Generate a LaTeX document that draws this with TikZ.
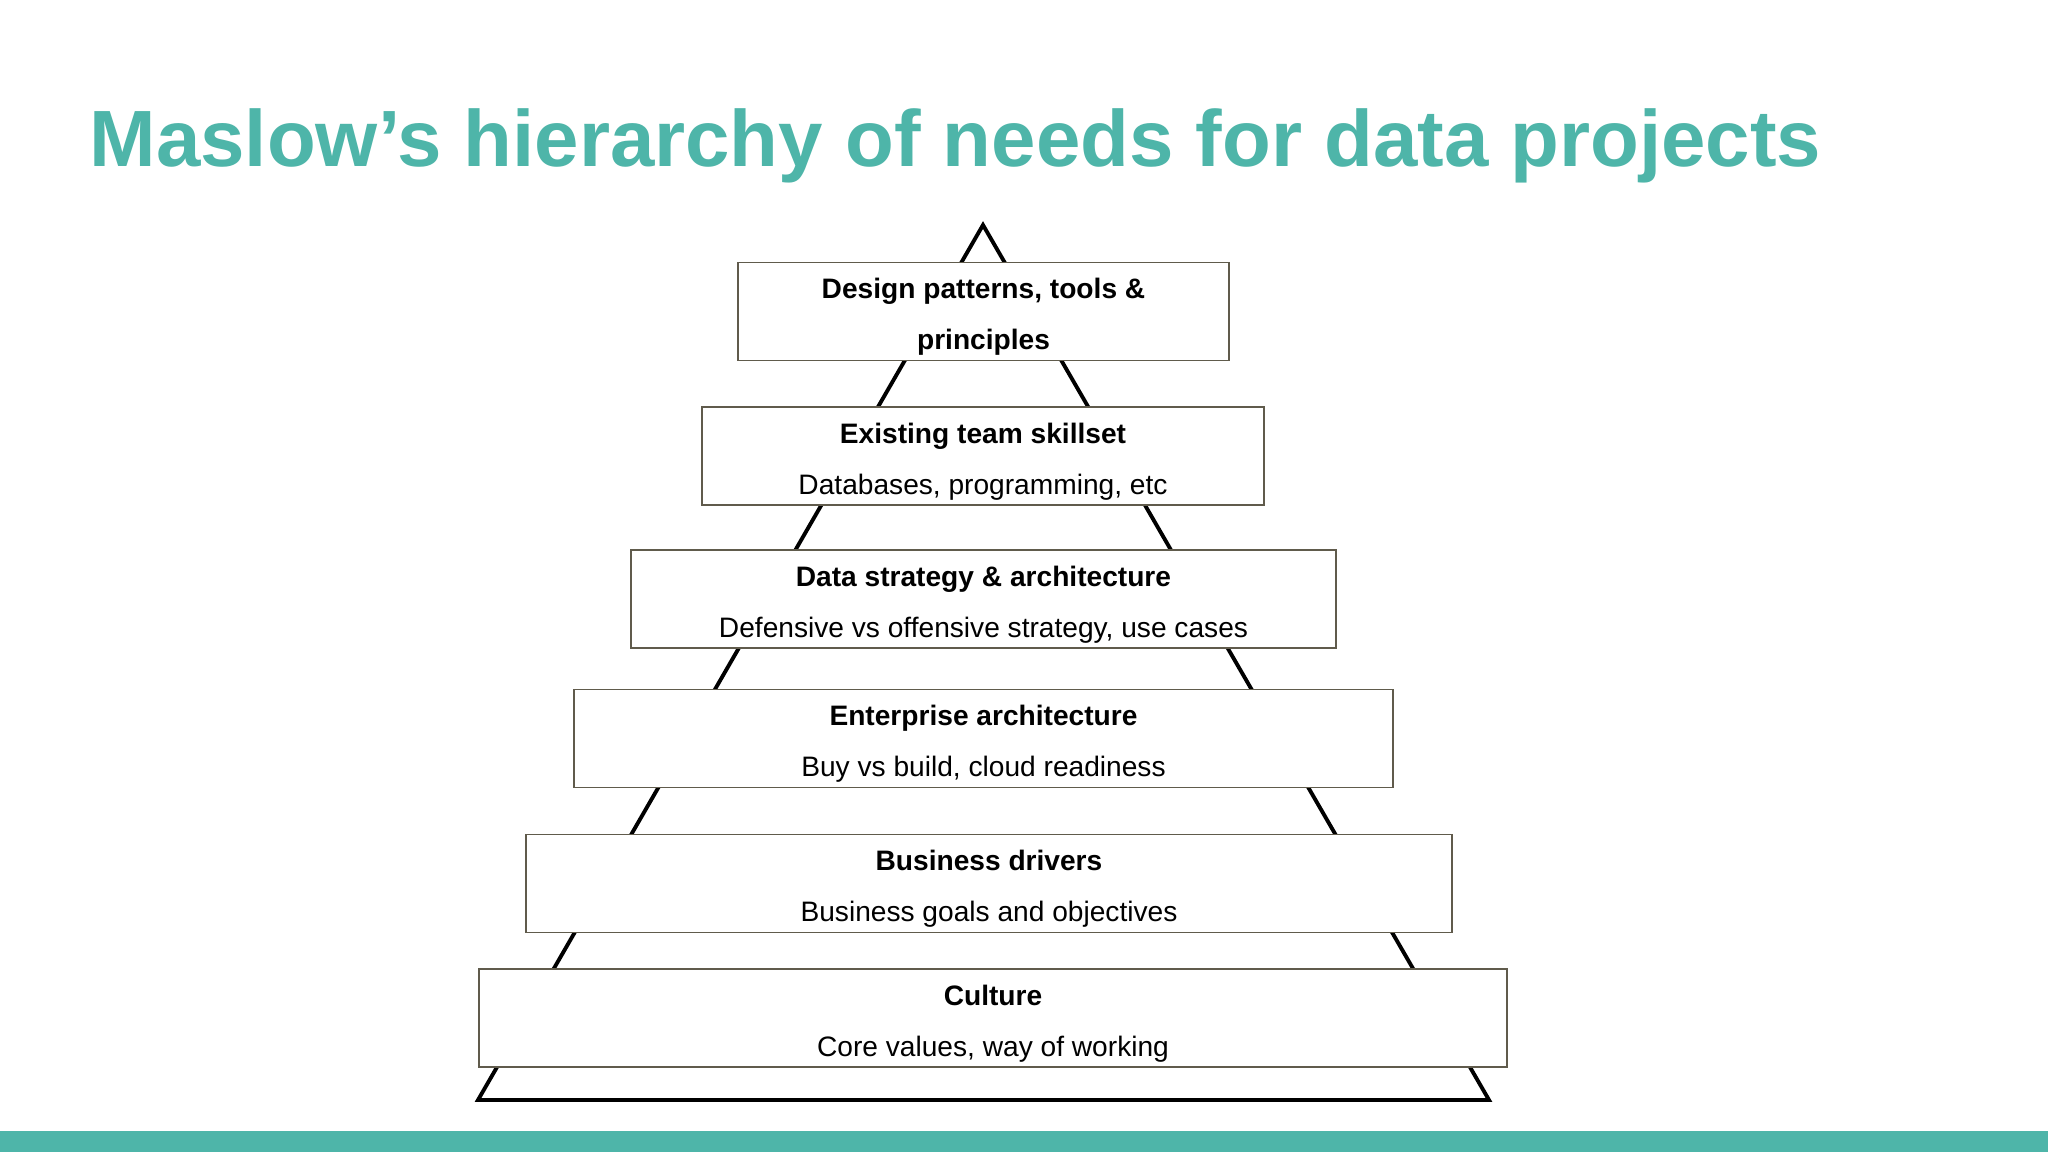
\documentclass[tikz,border=0pt]{standalone}
\usepackage{fontspec}
\setmainfont{Liberation Sans}
\usetikzlibrary{positioning}
\definecolor{mtteal}{RGB}{78,181,169}
\definecolor{boxline}{RGB}{96,91,76}
\newcommand{\lvltop}{\rule{0pt}{8.9pt}}

\begin{document}
\begin{tikzpicture}[x=0.01cm,y=-0.01cm,
    level box/.style={draw=boxline,line width=0.55pt,fill=white,minimum height=0.98cm,
                      inner sep=0pt,align=center,font=\fontsize{8}{14.5}\selectfont},
    pyramid/.style={line width=1.1pt,black}]

  \useasboundingbox[fill=white] (0,0) rectangle (2048,1152);
  \fill[mtteal] (0,1131) rectangle (2048,1152);

  \node[anchor=base west,text=mtteal,inner sep=0pt,
        font=\fontsize{22.7}{26}\selectfont\bfseries] (title) at (89,167)
        {Maslow’s hierarchy of needs for data projects};

  % pyramid behind the boxes
  \coordinate (apex) at (983,225);
  \coordinate (baseL) at (478,1100);
  \coordinate (baseR) at (1489,1100);
  \draw[pyramid] (apex) -- (baseL) -- (baseR) -- cycle;

  \node[level box,minimum width=4.91cm] (design) at (983.5,311.5)
        {\lvltop\textbf{Design patterns, tools \&}\\\textbf{principles}};
  \node[level box,minimum width=5.62cm] (skills) at (983,456)
        {\lvltop\textbf{Existing team skillset}\\Databases, programming, etc};
  \node[level box,minimum width=7.05cm] (strategy) at (983.5,599)
        {\lvltop\textbf{Data strategy \& architecture}\\Defensive vs offensive strategy, use cases};
  \node[level box,minimum width=8.18cm] (enterprise) at (983.5,738.5)
        {\lvltop\textbf{Enterprise architecture}\\Buy vs build, cloud readiness};
  \node[level box,minimum width=9.26cm] (drivers) at (989,883.5)
        {\lvltop\textbf{Business drivers}\\Business goals and objectives};
  \node[level box,minimum width=10.28cm] (culture) at (993,1018)
        {\lvltop\textbf{Culture}\\Core values, way of working};
\end{tikzpicture}
\end{document}
